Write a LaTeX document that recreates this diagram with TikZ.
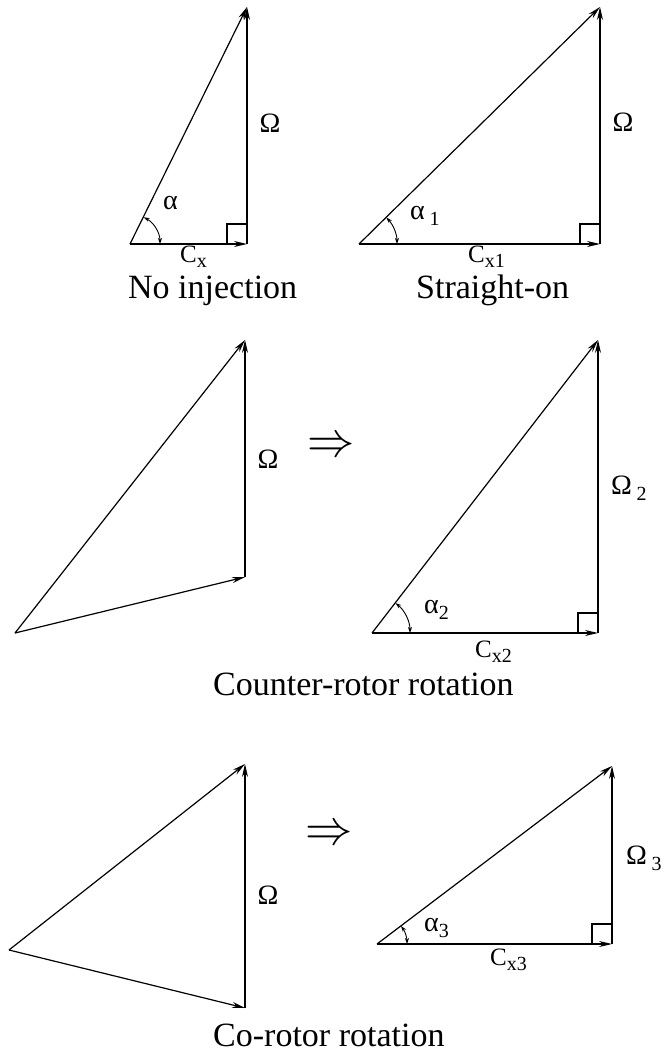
\documentclass[tikz,border=0pt]{standalone}
\usepackage{fontspec}
\setmainfont{Liberation Serif}
\usetikzlibrary{arrows.meta}
\newcommand{\lowsub}[1]{\raisebox{-0.45ex}{\fontsize{20}{20}\selectfont #1}}

\begin{document}
\begin{tikzpicture}[x=1pt,y=1pt,
    vec/.style={line width=1.2pt,-{Stealth[length=13pt,width=6pt]}},
    side/.style={line width=1.1pt},
    ang/.style={line width=0.9pt,{Stealth[length=6pt,width=4pt]}-{Stealth[length=6pt,width=4pt]}},
    omg/.style={inner sep=0pt,font=\fontsize{28}{28}\selectfont},
    lbl/.style={inner sep=0pt,anchor=west,font=\fontsize{25}{25}\selectfont},
    alf/.style={inner sep=0pt,anchor=west,font=\fontsize{28}{28}\selectfont},
    implies/.style={inner sep=0pt,font=\fontsize{29}{29}\selectfont},
    caption/.style={inner sep=0pt,anchor=base west,font=\fontsize{34}{34}\selectfont}]
    \useasboundingbox (0,0) rectangle (668,-1053);
    % no injection
    \coordinate (o1) at (130,-244);
    \coordinate (r1) at (247,-244);
    \coordinate (p1) at (247,-7);
    \draw[vec] (o1) -- (r1);
    \draw[vec] (r1) -- (p1);
    \draw[vec] (o1) -- (p1);
    \draw[side] ([xshift=-20pt]r1) |- ([yshift=20pt]r1);
    \draw[ang] ([xshift=30pt]o1) arc[start angle=0,end angle=63,radius=30];
    \node[alf] (al1) at (163,-203) {α};
    \node[omg] (om1) at (270,-123) {Ω};
    \node[lbl] (cx1) at (180,-257) {C\lowsub{x}};
    \node[caption] (cap1) at (128,-298) {No injection};
    % straight-on
    \coordinate (o2) at (359,-244);
    \coordinate (r2) at (600,-244);
    \coordinate (p2) at (600,-7);
    \draw[vec] (o2) -- (r2);
    \draw[vec] (r2) -- (p2);
    \draw[vec] (o2) -- (p2);
    \draw[side] ([xshift=-20pt]r2) |- ([yshift=20pt]r2);
    \draw[ang] ([xshift=38pt]o2) arc[start angle=0,end angle=44,radius=38];
    \node[omg] (om2) at (623,-122) {Ω};
    \node[alf] (al2) at (410,-216) {α\,\lowsub{1}};
    \node[lbl] (cx2) at (468,-257) {C\lowsub{x1}};
    \node[caption] (cap2) at (416,-298) {Straight-on};
    % counter-rotor, before
    \coordinate (a3) at (15,-633);
    \coordinate (b3) at (245,-577);
    \coordinate (c3) at (245,-340);
    \draw[vec] (a3) -- (b3);
    \draw[vec] (b3) -- (c3);
    \draw[vec] (a3) -- (c3);
    \node[omg] (om3) at (268,-459) {Ω};
    \node[implies] (imp3) at (331,-447) {\scalebox{1.9}[2]{$\Rightarrow$}};
    % counter-rotor, after
    \coordinate (o4) at (372,-633);
    \coordinate (r4) at (598,-633);
    \coordinate (p4) at (598,-340);
    \draw[vec] (o4) -- (r4);
    \draw[vec] (r4) -- (p4);
    \draw[vec] (o4) -- (p4);
    \draw[side] ([xshift=-20pt]r4) |- ([yshift=20pt]r4);
    \draw[ang] ([xshift=38pt]o4) arc[start angle=0,end angle=52,radius=38];
    \node[omg,anchor=west] (om4) at (611,-488) {Ω\,\lowsub{2}};
    \node[alf] (al4) at (424,-610) {α\lowsub{2}};
    \node[lbl] (cx4) at (475,-652) {C\lowsub{x2}};
    \node[caption] (cap4) at (213,-695) {Counter-rotor rotation};
    % co-rotor, before
    \coordinate (a5) at (9,-950);
    \coordinate (b5) at (245,-1008);
    \coordinate (c5) at (245,-764);
    \draw[vec] (a5) -- (b5);
    \draw[vec] (b5) -- (c5);
    \draw[vec] (a5) -- (c5);
    \node[omg] (om5) at (268,-895) {Ω};
    \node[implies] (imp5) at (329,-835) {\scalebox{1.9}[2]{$\Rightarrow$}};
    % co-rotor, after
    \coordinate (o6) at (377,-944);
    \coordinate (r6) at (612,-944);
    \coordinate (p6) at (612,-766);
    \draw[vec] (o6) -- (r6);
    \draw[vec] (r6) -- (p6);
    \draw[vec] (o6) -- (p6);
    \draw[side] ([xshift=-20pt]r6) |- ([yshift=20pt]r6);
    \draw[ang] ([xshift=30pt]o6) arc[start angle=0,end angle=37,radius=30];
    \node[omg,anchor=west] (om6) at (626,-858) {Ω\,\lowsub{3}};
    \node[alf] (al6) at (424,-928) {α\lowsub{3}};
    \node[lbl] (cx6) at (490,-960) {C\lowsub{x3}};
    \node[caption] (cap6) at (213,-1046) {Co-rotor rotation};
\end{tikzpicture}
\end{document}
